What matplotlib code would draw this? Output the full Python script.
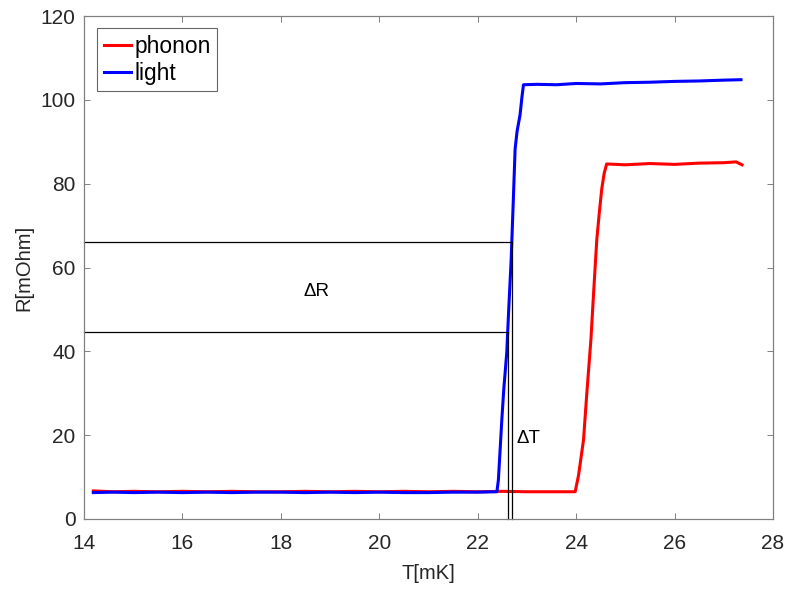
import matplotlib
matplotlib.use("Agg")
import matplotlib.pyplot as plt

plt.rcParams["font.family"] = ["Liberation Sans", "DejaVu Sans"]

# resistance vs temperature traces (mK, mOhm)
light_T = [14.19, 14.6, 15.0, 15.5, 16.0, 16.5, 17.0, 17.5, 18.0, 18.5, 19.0, 19.5, 20.0, 20.5,
           21.0, 21.5, 22.0, 22.39, 22.42, 22.49, 22.53, 22.59, 22.63, 22.68, 22.72, 22.76,
           22.80, 22.86, 22.90, 22.93, 23.2, 23.6, 24.0, 24.5, 25.0, 25.5, 26.0, 26.5, 27.0, 27.35]
light_R = [6.3, 6.4, 6.3, 6.4, 6.3, 6.4, 6.3, 6.4, 6.4, 6.3, 6.4, 6.3, 6.4, 6.3,
           6.3, 6.4, 6.4, 6.5, 9.3, 23.7, 31.0, 39.7, 50.0, 62.0, 75.0, 88.3,
           92.5, 96.4, 100.8, 103.6, 103.7, 103.6, 103.9, 103.8, 104.1, 104.2, 104.4, 104.5, 104.7, 104.8]

phonon_T = [14.19, 14.6, 15.0, 15.5, 16.0, 16.5, 17.0, 17.5, 18.0, 18.5, 19.0, 19.5, 20.0, 20.5,
            21.0, 21.5, 22.0, 22.5, 23.0, 23.5, 23.98, 24.05, 24.15, 24.22, 24.30, 24.36, 24.42,
            24.47, 24.52, 24.57, 24.62, 25.0, 25.5, 26.0, 26.5, 27.0, 27.25, 27.37]
phonon_R = [6.7, 6.5, 6.6, 6.5, 6.6, 6.5, 6.6, 6.5, 6.5, 6.6, 6.5, 6.6, 6.5, 6.6,
            6.5, 6.6, 6.5, 6.6, 6.5, 6.5, 6.5, 10.5, 18.9, 30.5, 42.8, 55.0, 66.7,
            73.0, 78.7, 82.5, 84.7, 84.5, 84.8, 84.6, 84.9, 85.0, 85.2, 84.5]

# delta-R / delta-T bracket lines
dR_upper, dR_lower = 66.0, 44.7
dT_right, dT_left = 22.70, 22.62

fig = plt.figure(figsize=(7.88, 5.90), dpi=100)
ax = fig.add_axes([84 / 788, 71 / 590, 689 / 788, 503 / 590])

ax.plot(phonon_T, phonon_R, color="#ff0000", lw=2.2, label="phonon")
ax.plot(light_T, light_R, color="#0000ff", lw=2.2, label="light")

ax.plot([14, dT_right, dT_right], [dR_upper, dR_upper, 0], color="black", lw=0.9, clip_on=False)
ax.plot([14, dT_left, dT_left], [dR_lower, dR_lower, 0], color="black", lw=0.9, clip_on=False)
ax.text(18.73, 54.2, "ΔR", fontsize=13.5, ha="center", va="center")
ax.text(22.79, 19.1, "ΔT", fontsize=13.5, ha="left", va="center")

ax.set_xlim(14, 28)
ax.set_ylim(0, 120)
ax.set_xticks(range(14, 29, 2))
ax.set_yticks(range(0, 121, 20))
gray = "#262626"
for s in ax.spines.values():
    s.set_color("#808080")
    s.set_linewidth(0.9)
ax.tick_params(direction="in", top=True, right=True, length=4, width=0.7,
               colors="#808080", labelcolor=gray, labelsize=15)
ax.tick_params(axis="x", pad=11)
ax.tick_params(axis="y", pad=6)
ax.set_xlabel("T[mK]", fontsize=14.5, color=gray, labelpad=8)
ax.set_ylabel("R[mOhm]", fontsize=14.5, color=gray, labelpad=5)

leg = ax.legend(loc="upper left", fontsize=16.4, frameon=True, fancybox=False,
                handlelength=1.2, handletextpad=0.12, borderpad=0.3, labelspacing=0.15,
                borderaxespad=0, bbox_to_anchor=(13.3 / 689, 1 - 12.3 / 503))
leg.get_frame().set_edgecolor("#404040")
leg.get_frame().set_linewidth(0.8)

fig.savefig("out.png", dpi=100)
